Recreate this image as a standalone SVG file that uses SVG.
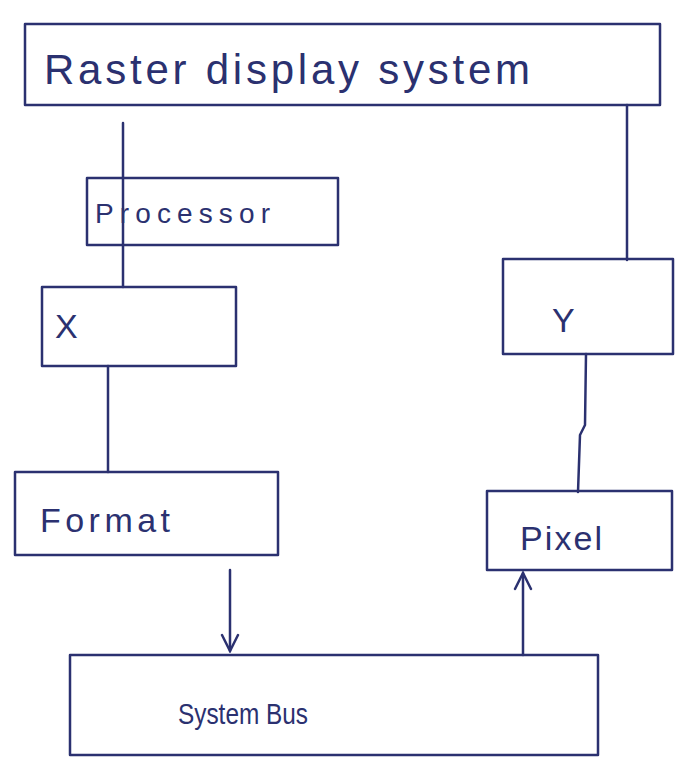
<svg xmlns="http://www.w3.org/2000/svg" width="679" height="767" viewBox="0 0 679 767">
<defs>
<style>
.box{fill:none;stroke:#2b3170;stroke-width:2.5;stroke-linejoin:round}
.ln{fill:none;stroke:#2b3170;stroke-width:2.5;stroke-linecap:round}
.t{font-family:"Liberation Sans",Arial,sans-serif;fill:#2b3170}
</style>
<marker id="ah" viewBox="0 0 20 20" refX="18" refY="10" markerWidth="20" markerHeight="20" markerUnits="userSpaceOnUse" orient="auto">
<path d="M2,2 L18,10 L2,18" fill="none" stroke="#2b3170" stroke-width="2.5" stroke-linecap="round"/>
</marker>
</defs>
<rect width="679" height="767" fill="#ffffff"/>
<g id="connectors">
<line class="ln" x1="123" y1="123" x2="123" y2="287"/>
<line class="ln" x1="627" y1="105" x2="627" y2="260"/>
<line class="ln" x1="108" y1="366" x2="108" y2="472"/>
<polyline class="ln" points="586,354 585,425 580,435 578,492"/>
<line class="ln" x1="230" y1="570" x2="230" y2="651" marker-end="url(#ah)"/>
<line class="ln" x1="523" y1="655" x2="523" y2="573" marker-end="url(#ah)"/>
</g>
<g id="raster">
<rect class="box" x="25" y="24" width="635" height="81"/>
<text class="t" x="44" y="84" font-size="42" textLength="486" lengthAdjust="spacing">Raster display system</text>
</g>
<g id="processor">
<rect class="box" x="87" y="178" width="251" height="67"/>
<text class="t" x="95" y="223" font-size="28" textLength="175" lengthAdjust="spacing">Processor</text>
</g>
<g id="x">
<rect class="box" x="42" y="287" width="194" height="79"/>
<text class="t" x="55" y="338" font-size="34">X</text>
</g>
<g id="y">
<rect class="box" x="503" y="259" width="170" height="95"/>
<text class="t" x="552" y="332" font-size="34">Y</text>
</g>
<g id="format">
<rect class="box" x="15" y="472" width="263" height="83"/>
<text class="t" x="40" y="532" font-size="34" textLength="130" lengthAdjust="spacing">Format</text>
</g>
<g id="pixel">
<rect class="box" x="487" y="491" width="185" height="79"/>
<text class="t" x="520" y="550" font-size="34" textLength="82" lengthAdjust="spacing">Pixel</text>
</g>
<g id="systembus">
<rect class="box" x="70" y="655" width="528" height="100"/>
<text class="t" x="178" y="724" font-size="30" textLength="130" lengthAdjust="spacingAndGlyphs">System Bus</text>
</g>
</svg>
